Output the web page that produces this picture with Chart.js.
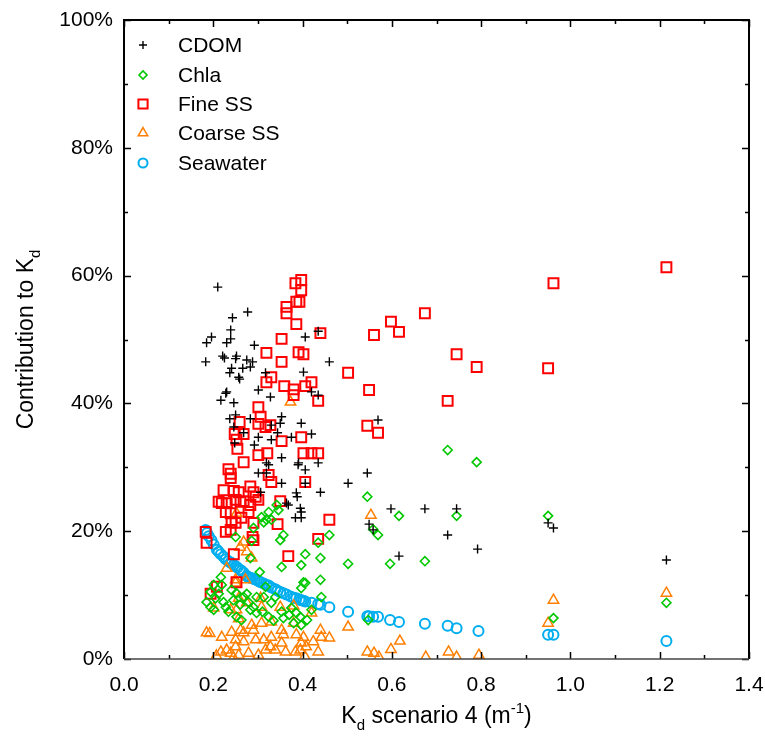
<!DOCTYPE html>
<html>
<head>
<meta charset="utf-8">
<script src="https://cdn.jsdelivr.net/npm/chart.js@4.4.0/dist/chart.umd.min.js"></script>
<style>
  html, body { margin: 0; padding: 0; background: #fff; }
</style>
</head>
<body>
<canvas id="chart" width="765" height="747"></canvas>
<script>
// Kd (m-1) and contribution (%) for each component
var cdom = [
  [0.183,46.5],[0.185,49.5],[0.196,50.4],[0.210,58.2],[0.217,40.5],[0.221,47.4],[0.225,47.1],[0.228,41.6],
  [0.230,41.8],[0.230,49.5],[0.237,44.8],[0.237,37.6],[0.239,51.5],[0.239,50.1],[0.241,45.5],[0.243,53.4],
  [0.246,40.1],[0.246,36.3],[0.248,33.8],[0.250,47.0],[0.250,38.2],[0.252,47.4],[0.257,44.1],[0.259,43.8],
  [0.266,45.5],[0.268,35.4],[0.275,46.8],[0.277,54.3],[0.283,45.7],[0.283,37.6],[0.288,46.5],[0.292,49.1],
  [0.292,33.5],[0.301,42.1],[0.301,34.7],[0.301,29.1],[0.306,26.1],[0.317,44.8],[0.319,30.7],[0.319,29.1],
  [0.324,30.4],[0.328,41.0],[0.330,36.6],[0.330,34.3],[0.344,35.4],[0.350,36.9],[0.353,37.9],[0.353,31.5],
  [0.353,27.5],[0.364,24.4],[0.368,24.1],[0.375,34.7],[0.384,22.1],[0.386,26.0],[0.388,25.4],[0.390,30.4],
  [0.391,30.7],[0.395,23.6],[0.397,36.9],[0.397,23.0],[0.397,22.1],[0.402,44.9],[0.406,50.4],[0.406,29.6],
  [0.406,27.5],[0.420,41.8],[0.420,35.2],[0.435,51.3],[0.435,41.3],[0.435,30.7],[0.440,26.1],[0.460,46.5],
  [0.502,27.5],[0.545,29.1],[0.549,21.1],[0.558,20.2],[0.569,37.4],[0.598,23.5],[0.616,16.1],[0.674,23.5],
  [0.725,19.4],[0.745,23.5],[0.792,17.2],[0.950,21.3],[0.962,20.5],[1.215,15.5]
];
var chla = [
  [0.185,8.9],[0.194,10.5],[0.194,8.1],[0.201,11.6],[0.201,7.7],[0.205,9.5],[0.212,10.2],[0.217,12.8],
  [0.219,11.6],[0.223,8.9],[0.228,8.1],[0.234,7.4],[0.241,10.8],[0.245,9.2],[0.250,19.1],[0.252,10.3],
  [0.252,6.6],[0.260,8.5],[0.263,6.1],[0.268,9.7],[0.275,10.2],[0.279,8.9],[0.283,15.8],[0.283,7.7],
  [0.286,18.5],[0.290,20.5],[0.290,8.1],[0.297,9.7],[0.297,7.2],[0.304,13.6],[0.308,22.2],[0.310,7.4],
  [0.313,21.4],[0.313,9.7],[0.317,11.3],[0.319,21.8],[0.324,23.0],[0.324,6.6],[0.330,21.8],[0.330,8.8],
  [0.335,6.0],[0.339,9.7],[0.342,24.1],[0.346,23.3],[0.350,18.6],[0.353,14.4],[0.353,7.4],[0.357,19.4],
  [0.357,6.4],[0.370,6.9],[0.375,8.0],[0.380,5.6],[0.386,7.2],[0.395,6.6],[0.397,14.7],[0.397,11.1],
  [0.397,5.3],[0.402,12.0],[0.406,16.4],[0.406,11.9],[0.410,6.1],[0.420,7.7],[0.435,18.2],[0.440,15.8],
  [0.440,12.4],[0.442,9.7],[0.460,19.4],[0.502,14.9],[0.545,25.4],[0.547,6.1],[0.558,20.3],[0.569,19.4],
  [0.596,14.9],[0.616,22.4],[0.674,15.3],[0.725,32.7],[0.745,22.4],[0.790,30.8],[0.950,22.4],[0.962,6.4],
  [1.215,8.8]
];
var fineSS = [
  [0.183,19.9],[0.185,18.2],[0.194,10.2],[0.208,11.3],[0.212,24.6],[0.219,24.4],[0.223,26.4],[0.228,23.0],
  [0.228,19.9],[0.230,24.4],[0.234,29.7],[0.239,29.0],[0.239,28.3],[0.239,22.8],[0.239,20.2],[0.241,21.4],
  [0.246,26.3],[0.246,16.4],[0.248,35.2],[0.250,24.9],[0.250,21.3],[0.252,34.3],[0.252,12.0],[0.254,32.9],
  [0.257,26.1],[0.259,37.1],[0.261,24.6],[0.263,22.1],[0.268,35.2],[0.268,30.8],[0.268,24.7],[0.279,23.0],
  [0.283,27.0],[0.283,24.1],[0.288,19.1],[0.290,26.1],[0.290,21.3],[0.290,18.6],[0.295,25.4],[0.301,39.4],
  [0.301,36.8],[0.301,31.9],[0.301,24.9],[0.306,37.9],[0.317,36.3],[0.319,47.9],[0.319,43.3],[0.321,32.2],
  [0.324,28.8],[0.328,36.6],[0.330,44.1],[0.330,27.7],[0.344,21.1],[0.350,24.7],[0.353,50.1],[0.353,46.5],
  [0.353,34.1],[0.359,42.7],[0.364,55.1],[0.364,54.1],[0.368,16.1],[0.380,42.2],[0.380,41.3],[0.384,58.8],
  [0.386,55.9],[0.386,52.4],[0.391,48.0],[0.393,55.9],[0.397,59.3],[0.397,57.7],[0.397,34.7],[0.402,47.7],
  [0.402,32.2],[0.406,42.7],[0.406,27.7],[0.420,43.3],[0.420,32.2],[0.435,40.4],[0.435,32.2],[0.435,18.8],
  [0.440,51.0],[0.460,21.8],[0.502,44.8],[0.545,36.5],[0.549,42.1],[0.560,50.7],[0.569,35.4],[0.598,52.8],
  [0.616,51.2],[0.674,54.1],[0.725,40.4],[0.745,47.7],[0.790,45.7],[0.950,45.5],[0.962,58.8],[1.215,61.3]
];
var coarseSS = [
  [0.185,4.1],[0.192,4.0],[0.201,8.0],[0.207,0.5],[0.217,1.1],[0.219,3.4],[0.230,14.2],[0.230,1.4],
  [0.239,7.7],[0.239,0.9],[0.241,4.2],[0.245,0.2],[0.250,12.4],[0.250,11.9],[0.250,3.0],[0.250,1.9],
  [0.252,22.8],[0.252,7.7],[0.257,9.5],[0.257,6.3],[0.257,0.6],[0.260,17.5],[0.261,4.5],[0.268,18.3],
  [0.268,4.1],[0.268,2.7],[0.272,12.4],[0.275,16.8],[0.275,8.8],[0.279,0.9],[0.286,15.8],[0.286,5.3],
  [0.290,4.5],[0.295,3.0],[0.301,0.6],[0.306,9.5],[0.308,8.1],[0.308,5.6],[0.313,3.0],[0.317,1.4],
  [0.328,1.9],[0.330,5.8],[0.330,3.4],[0.339,1.4],[0.350,8.1],[0.353,4.5],[0.353,2.5],[0.357,3.8],
  [0.362,1.1],[0.373,40.2],[0.380,8.3],[0.380,5.6],[0.384,1.1],[0.386,3.8],[0.395,1.4],[0.397,2.5],
  [0.402,3.4],[0.405,0.4],[0.408,1.9],[0.420,7.2],[0.424,2.7],[0.435,1.1],[0.440,4.5],[0.442,3.4],
  [0.460,3.3],[0.502,5.0],[0.545,1.1],[0.553,22.5],[0.560,0.9],[0.571,0.3],[0.598,1.5],[0.618,2.8],
  [0.676,0.3],[0.727,1.1],[0.745,0.3],[0.795,0.6],[0.950,5.6],[0.962,9.2],[1.215,10.3]
];
var seawater = [
  [0.183,20.2],[0.186,19.7],[0.190,19.2],[0.196,18.6],[0.201,17.9],[0.208,17.1],[0.212,16.8],[0.217,16.4],
  [0.223,16.0],[0.228,15.6],[0.234,15.3],[0.239,15.1],[0.241,15.0],[0.246,14.7],[0.250,14.5],[0.254,14.3],
  [0.259,14.0],[0.263,13.8],[0.268,13.5],[0.275,13.0],[0.279,12.8],[0.283,12.7],[0.288,12.6],[0.292,12.5],
  [0.297,12.4],[0.301,12.2],[0.306,12.0],[0.313,11.8],[0.319,11.6],[0.324,11.5],[0.330,11.2],[0.339,10.9],
  [0.344,10.7],[0.350,10.5],[0.357,10.3],[0.364,10.1],[0.373,9.8],[0.380,9.6],[0.386,9.5],[0.393,9.3],
  [0.397,9.2],[0.402,9.1],[0.406,9.0],[0.420,8.8],[0.435,8.6],[0.440,8.5],[0.460,8.1],[0.502,7.4],
  [0.545,6.7],[0.549,6.7],[0.558,6.6],[0.569,6.6],[0.596,6.1],[0.616,5.8],[0.674,5.5],[0.725,5.2],
  [0.745,4.8],[0.794,4.4],[0.950,3.8],[0.962,3.8],[1.215,2.8]
];

var seriesNames = ['CDOM', 'Chla', 'Fine SS', 'Coarse SS', 'Seawater'];
var seriesData = [cdom, chla, fineSS, coarseSS, seawater];
var seriesColors = ['#000000', '#00c800', '#ff0000', '#ff7f00', '#00aeef'];
var seriesStyles = ['cross', 'rectRot', 'rect', 'triangle', 'circle'];
var seriesRadius = [4.5, 4.5, 7, 6, 5];
var seriesBorder = [1.4, 1.6, 2, 1.5, 2];

var fontName = '"Liberation Sans", Arial, sans-serif';

var datasets = seriesData.map(function (pts, i) {
   return {
      label: seriesNames[i],
      data: pts.map(function (p) { return { x: p[0], y: p[1] }; }),
      pointStyle: seriesStyles[i],
      pointRadius: seriesRadius[i],
      pointBorderWidth: seriesBorder[i],
      borderColor: seriesColors[i],
      backgroundColor: 'rgba(0,0,0,0)',
      showLine: false
   };
});

// frame, inward ticks, legend and axis titles
var decorPlugin = {
   id: 'decor',
   afterDraw: function (chart) {
      var ctx = chart.ctx;
      var a = chart.chartArea;
      var xs = chart.scales.x, ys = chart.scales.y;
      ctx.save();
      ctx.strokeStyle = '#000';
      ctx.lineWidth = 1.5;
      ctx.beginPath();
      var i, p, len;
      for (i = 0; i <= 14; i++) {
         p = Math.round(xs.getPixelForValue(i / 10)) + 0.5;
         len = i % 2 ? 4 : 7;
         ctx.moveTo(p, a.bottom); ctx.lineTo(p, a.bottom - len);
         ctx.moveTo(p, a.top); ctx.lineTo(p, a.top + len);
      }
      for (i = 0; i <= 10; i++) {
         p = Math.round(ys.getPixelForValue(i * 10)) + 0.5;
         len = i % 2 ? 4 : 7;
         ctx.moveTo(a.left, p); ctx.lineTo(a.left + len, p);
         ctx.moveTo(a.right, p); ctx.lineTo(a.right - len, p);
      }
      ctx.stroke();
      ctx.lineWidth = 2;
      ctx.beginPath();
      ctx.moveTo(a.left, a.bottom);
      ctx.lineTo(a.left, a.top);
      ctx.lineTo(a.right, a.top);
      ctx.lineTo(a.right, a.bottom);
      ctx.stroke();
      ctx.strokeStyle = '#444';
      ctx.lineWidth = 1.5;
      ctx.beginPath();
      ctx.moveTo(a.left, a.bottom);
      ctx.lineTo(a.right, a.bottom);
      ctx.stroke();

      // legend
      var rows = [45, 75, 104, 133, 163];
      ctx.font = '21px ' + fontName;
      ctx.textBaseline = 'middle';
      ctx.textAlign = 'left';
      for (i = 0; i < seriesNames.length; i++) {
         ctx.strokeStyle = seriesColors[i];
         ctx.fillStyle = 'rgba(0,0,0,0)';
         ctx.lineWidth = seriesBorder[i];
         Chart.helpers.drawPoint(ctx, { pointStyle: seriesStyles[i], radius: seriesRadius[i] - 0.5, rotation: 0, borderWidth: seriesBorder[i] }, a.left + 19, rows[i]);
         ctx.fillStyle = '#000';
         ctx.fillText(seriesNames[i], a.left + 54, rows[i] + 1);
      }

      // x title: K_d scenario 4 (m^-1)
      ctx.fillStyle = '#000';
      ctx.textBaseline = 'alphabetic';
      var big = '23px ' + fontName, small = '15px ' + fontName;
      var parts = [['K', big, 0], ['d', small, 7], [' scenario 4 (m', big, 0], ['-1', small, -10], [')', big, 0]];
      var w = 0;
      parts.forEach(function (q) { ctx.font = q[1]; w += ctx.measureText(q[0]).width; });
      var cx = (a.left + a.right) / 2 - w / 2, by = 723;
      parts.forEach(function (q) { ctx.font = q[1]; ctx.fillText(q[0], cx, by + q[2]); cx += ctx.measureText(q[0]).width; });

      // y title: Contribution to K_d
      ctx.translate(33, (a.top + a.bottom) / 2);
      ctx.rotate(-Math.PI / 2);
      var yparts = [['Contribution to K', big, 0], ['d', small, 7]];
      w = 0;
      yparts.forEach(function (q) { ctx.font = q[1]; w += ctx.measureText(q[0]).width; });
      cx = -w / 2;
      yparts.forEach(function (q) { ctx.font = q[1]; ctx.fillText(q[0], cx, q[2]); cx += ctx.measureText(q[0]).width; });
      ctx.restore();
   }
};

var mychart = document.getElementById('chart').getContext('2d');

var newChart = new Chart(mychart, {
   type: 'scatter',
   data: { datasets: datasets },
   options: {
      responsive: false,
      animation: false,
      layout: { padding: { top: 20, right: 16, left: 0, bottom: 0 } },
      plugins: { legend: { display: false }, tooltip: { enabled: false } },
      scales: {
         x: {
            type: 'linear',
            min: 0,
            max: 1.4,
            grid: { display: false, drawTicks: false },
            border: { display: false },
            ticks: {
               stepSize: 0.2,
               padding: 14,
               color: '#000',
               font: { family: fontName, size: 21 },
               callback: function (v) { return v.toFixed(1); }
            },
            afterFit: function (s) { s.height = 88; s.paddingLeft = 0; s.paddingRight = 0; }
         },
         y: {
            min: 0,
            max: 100,
            grid: { display: false, drawTicks: false },
            border: { display: false },
            ticks: {
               stepSize: 20,
               padding: 11,
               color: '#000',
               font: { family: fontName, size: 21 },
               callback: function (v) { return v + '%'; }
            },
            afterFit: function (s) { s.width = 124; s.paddingTop = 0; s.paddingBottom = 0; }
         }
      }
   },
   plugins: [decorPlugin]
});
</script>
</body>
</html>
